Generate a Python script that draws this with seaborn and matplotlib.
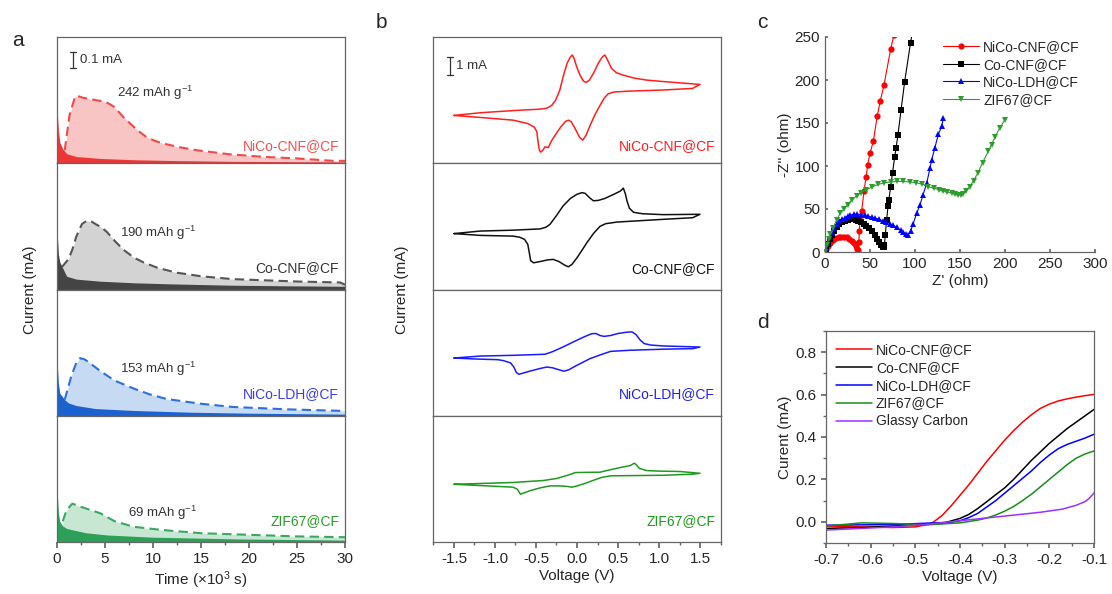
import numpy as np
import pandas as pd
import seaborn as sns
import matplotlib.pyplot as plt
from matplotlib.ticker import MultipleLocator

# ---- panel a: discharge current vs time (x1e3 s, mA) ----
GCD_NAMES = ["NiCo-CNF@CF", "Co-CNF@CF", "NiCo-LDH@CF", "ZIF67@CF"]
GCD_CAPS = ["242", "190", "153", "69"]

red_solid_t = [0, 0.05, 0.15, 0.3, 0.6, 1.0, 2, 4.5, 8, 12, 18, 24, 30]
red_solid_i = [0.38, 0.30, 0.20, 0.13, 0.09, 0.06, 0.042, 0.03, 0.022, 0.017, 0.012, 0.01, 0.008]
red_dash_t = [0.8, 1.3, 1.9, 2.3, 2.7, 3.6, 4.5, 5.0, 5.4, 5.9, 6.3, 6.9, 7.6, 8.4, 9.3, 10.2, 11.1,
              12.8, 14.6, 18, 21.5, 25, 28.8, 30]
red_dash_i = [0.08, 0.30, 0.42, 0.418, 0.41, 0.40, 0.39, 0.385, 0.373, 0.355, 0.33, 0.29, 0.25, 0.205,
              0.165, 0.14, 0.123, 0.10, 0.081, 0.056, 0.04, 0.03, 0.015, 0.015]

grey_solid_t = [0, 0.05, 0.15, 0.3, 0.5, 1.0, 2, 4.5, 8, 12, 18, 24, 30]
grey_solid_i = [0.39, 0.32, 0.22, 0.17, 0.146, 0.083, 0.065, 0.052, 0.042, 0.035, 0.027, 0.023, 0.02]
grey_dash_t = [0.5, 1.2, 1.6, 2.0, 2.6, 3.1, 3.6, 4.0, 4.6, 5.2, 6.0, 6.9, 8.0, 9.0, 10.5, 12.5, 15,
               18.3, 25, 29.5, 30]
grey_dash_i = [0.14, 0.19, 0.25, 0.33, 0.41, 0.43, 0.425, 0.41, 0.39, 0.36, 0.305, 0.25, 0.20, 0.17,
               0.135, 0.105, 0.083, 0.065, 0.05, 0.044, 0.03]

blue_solid_t = [0, 0.05, 0.15, 0.3, 0.5, 0.8, 1.2, 2, 4, 8, 14, 20, 30]
blue_solid_i = [0.39, 0.30, 0.20, 0.14, 0.125, 0.10, 0.08, 0.064, 0.045, 0.033, 0.022, 0.016, 0.01]
blue_dash_t = [0.8, 1.5, 2.0, 2.4, 2.8, 3.2, 4.5, 6.0, 8.0, 9.6, 11.4, 15, 18.3, 24, 30]
blue_dash_i = [0.10, 0.25, 0.33, 0.36, 0.355, 0.34, 0.28, 0.22, 0.17, 0.135, 0.105, 0.075, 0.055, 0.04, 0.03]

green_solid_t = [0, 0.05, 0.15, 0.3, 0.6, 1.0, 1.7, 3, 5.2, 10, 19, 25, 30]
green_solid_i = [0.38, 0.29, 0.18, 0.127, 0.10, 0.085, 0.075, 0.058, 0.044, 0.03, 0.019, 0.015, 0.012]
green_dash_t = [0.6, 1.0, 1.6, 2.5, 4.5, 6.0, 8.0, 11, 15, 20, 25, 30]
green_dash_i = [0.13, 0.20, 0.24, 0.22, 0.18, 0.13, 0.095, 0.075, 0.055, 0.045, 0.035, 0.03]

# ---- panel b: CV loops (V, mA, offset per panel) ----
cv_red_v = [-1.5, -1.18, -0.78, -0.45, -0.37, -0.31, -0.26, -0.21, -0.16, -0.12, -0.08, -0.057, -0.035,
            -0.004, 0.04, 0.08, 0.11, 0.15, 0.2, 0.26, 0.31, 0.34, 0.37, 0.42, 0.48, 0.56, 0.7, 0.85,
            1.05, 1.25, 1.5,
            1.41, 1.05, 0.64, 0.45, 0.38, 0.33, 0.28, 0.22, 0.16, 0.11, 0.07, 0.03, -0.02, -0.07, -0.105,
            -0.14, -0.2, -0.26, -0.31, -0.35, -0.39, -0.42, -0.445, -0.46, -0.475, -0.49, -0.52, -0.6,
            -0.78, -1.18, -1.5]
cv_red_i = [2.65, 2.80, 2.92, 3.0, 3.05, 3.2, 3.5, 4.05, 4.95, 5.55, 5.9, 6.0, 5.8,
            5.35, 4.85, 4.55, 4.48, 4.6, 4.98, 5.55, 5.9, 6.0, 5.75, 5.26, 5.02, 4.89, 4.72, 4.61,
            4.53, 4.46, 4.37,
            4.15, 4.06, 4.0, 3.95, 3.85, 3.6, 3.2, 2.7, 2.1, 1.55, 1.28, 1.45, 1.9, 2.3, 2.39,
            2.32, 2.0, 1.6, 1.25, 0.87, 0.91, 0.70, 0.62, 0.74, 1.2, 1.75, 2.0, 2.2,
            2.39, 2.54, 2.65]

cv_black_v = [-1.5, -1.18, -0.78, -0.45, -0.38, -0.33, -0.25, -0.17, -0.08, 0.0, 0.06, 0.1, 0.15, 0.2,
              0.26, 0.34, 0.45, 0.53, 0.565, 0.59, 0.61, 0.64, 0.69, 0.8, 1.05, 1.5,
              1.41, 1.05, 0.49, 0.35, 0.28, 0.2, 0.12, 0.05, 0.0, -0.06, -0.105, -0.15, -0.22, -0.29,
              -0.36, -0.45, -0.53, -0.565, -0.58, -0.6, -0.64, -0.7, -0.78, -1.18, -1.5]
cv_black_i = [3.1, 3.24, 3.29, 3.36, 3.45, 3.61, 4.1, 4.63, 5.05, 5.28, 5.37, 5.33, 5.1, 4.92,
              4.94, 5.05, 5.28, 5.46, 5.62, 5.3, 4.9, 4.5, 4.28, 4.2, 4.15, 4.17,
              3.98, 3.89, 3.74, 3.65, 3.5, 3.1, 2.59, 2.1, 1.76, 1.4, 1.26, 1.35, 1.55, 1.67,
              1.64, 1.55, 1.48, 1.6, 2.0, 2.5, 2.78, 2.9, 2.96, 3.0, 3.1]

cv_blue_v = [-1.5, -1.18, -0.78, -0.39, -0.3, -0.2, -0.1, 0.0, 0.1, 0.18, 0.23, 0.28, 0.33, 0.41, 0.5,
             0.6, 0.67, 0.72, 0.77, 0.82, 0.9, 1.05, 1.5,
             1.41, 1.05, 0.64, 0.41, 0.3, 0.16, 0.0, -0.1, -0.16, -0.22, -0.3, -0.37, -0.45, -0.57,
             -0.66, -0.71, -0.74, -0.77, -0.81, -0.9, -0.97, -1.2, -1.5]
cv_blue_i = [3.2, 3.31, 3.35, 3.41, 3.55, 3.75, 3.97, 4.19, 4.4, 4.55, 4.56, 4.45, 4.4, 4.45, 4.56,
             4.63, 4.65, 4.5, 4.2, 4.0, 3.92, 3.87, 3.81,
             3.72, 3.69, 3.63, 3.57, 3.4, 3.17, 2.80, 2.55, 2.47, 2.55, 2.66, 2.70, 2.62, 2.48,
             2.36, 2.30, 2.4, 2.7, 2.93, 3.06, 3.11, 3.14, 3.2]

cv_green_v = [-1.5, -0.78, -0.41, -0.25, -0.1, -0.02, 0.1, 0.28, 0.4, 0.55, 0.65, 0.7, 0.73, 0.76,
              0.85, 1.0, 1.25, 1.5,
              1.41, 1.05, 0.41, 0.3, 0.2, 0.1, 0.0, -0.06, -0.12, -0.2, -0.33, -0.45, -0.57, -0.66,
              -0.69, -0.71, -0.73, -0.78, -1.18, -1.5]
cv_green_i = [3.2, 3.30, 3.41, 3.52, 3.72, 3.85, 3.86, 3.87, 4.0, 4.15, 4.24, 4.37, 4.25, 4.08,
              3.96, 3.93, 3.91, 3.81,
              3.76, 3.70, 3.67, 3.58, 3.42, 3.25, 3.11, 3.04, 3.08, 3.11, 3.11, 3.0, 2.85, 2.7,
              2.65, 2.8, 2.93, 3.04, 3.13, 3.2]

# ---- panel c: Nyquist (ohm) ----
eis_red_re = [0.5, 1.5, 3, 5, 7, 9, 12, 15, 18, 21, 24, 27, 30, 32.5, 34.5, 36, 37, 37.6, 38.2, 38.9,
              40.7, 43.3, 45.6, 47.4, 50, 53.7, 58, 61.5, 65.6, 73, 76.5]
eis_red_im = [0, 3, 7, 10, 12.5, 14.5, 16, 17, 17.5, 17.5, 17, 15.5, 13, 10, 6.5, 3.5, 2, 12, 25, 37.6,
              47.3, 70.5, 86.8, 101.6, 115, 128.7, 158, 176, 194.6, 236, 252]
eis_black_re = [0.5, 1.5, 3, 5, 7.5, 10, 13, 16, 19, 22, 25, 28, 31, 34, 37, 40, 43, 46, 49, 52, 55, 58,
                60.5, 62.5, 64, 65, 66, 67, 68.5, 70, 71, 73, 75, 77.5, 79, 81, 84.5, 88.5, 95, 97]
eis_black_im = [0, 4, 9, 15, 20, 25, 29, 32.5, 35, 36.5, 37.5, 38, 38, 37.5, 36.5, 35, 33, 30.5, 27.5, 24,
                20, 15.5, 11.5, 8, 6, 5.5, 8, 20, 37.6, 53, 61, 76, 92, 111, 121, 136, 165, 198, 243, 255]
eis_blue_re = [0.5, 1.5, 3, 5, 7.5, 10, 13, 16, 19, 22, 25, 28, 32, 36, 40, 44, 48, 52, 56, 60, 64, 68,
               72, 76, 80, 84, 87, 90, 92.6, 95, 98, 101.9, 105.6, 109, 113, 116.7, 118.5, 122, 126,
               129.6, 131.5]
eis_blue_im = [0, 5, 11, 17, 23, 28, 32, 35.5, 38, 40, 42, 43, 44, 44, 43.5, 42.5, 41.5, 40.5, 39.5, 38,
               36.5, 35, 33, 31, 28.5, 25.5, 23, 21, 20, 24, 33, 45.3, 55, 66.7, 80, 97.7, 107, 121, 137,
               146, 155.8]
eis_green_re = [0.5, 2, 4, 6, 9, 13, 17, 21, 25, 30, 35, 40, 46, 52, 59, 66, 73, 80, 87, 94, 101, 108,
                114.8, 121, 127, 131.5, 136, 140.7, 144, 148, 151, 153.7, 157, 161, 165, 170, 175,
                181.5, 185, 189, 194, 200]
eis_green_im = [0, 8, 15, 21, 28, 37.6, 45, 50, 55, 61, 65, 69, 72.5, 75.5, 78.5, 80.5, 81.5, 82, 82,
                81.5, 80.5, 79, 76, 74, 72.5, 70.5, 69.5, 68.6, 67, 66, 66.5, 68, 71, 76, 83, 92, 104,
                117, 125, 134, 144, 154]

# ---- panel d: LSV (V, mA) ----
lsv_red_v = [-0.70, -0.62, -0.55, -0.50, -0.474, -0.46, -0.44, -0.42, -0.40, -0.38, -0.36, -0.34, -0.32,
             -0.30, -0.28, -0.26, -0.24, -0.22, -0.20, -0.18, -0.16, -0.14, -0.12, -0.10]
lsv_red_i = [-0.02, -0.024, -0.027, -0.024, -0.013, -0.002, 0.03, 0.075, 0.125, 0.175, 0.23, 0.285, 0.335,
             0.385, 0.43, 0.47, 0.505, 0.535, 0.555, 0.57, 0.58, 0.588, 0.595, 0.601]
lsv_black_v = [-0.70, -0.62, -0.51, -0.44, -0.40, -0.38, -0.36, -0.34, -0.32, -0.30, -0.28, -0.26, -0.24,
               -0.22, -0.20, -0.18, -0.16, -0.14, -0.12, -0.10]
lsv_black_i = [-0.031, -0.027, -0.016, -0.008, 0.016, 0.035, 0.063, 0.095, 0.128, 0.16, 0.20, 0.245, 0.29,
               0.33, 0.37, 0.405, 0.44, 0.47, 0.50, 0.53]
lsv_blue_v = [-0.70, -0.55, -0.42, -0.40, -0.38, -0.36, -0.34, -0.32, -0.30, -0.28, -0.26, -0.24, -0.22,
              -0.20, -0.18, -0.16, -0.14, -0.12, -0.10]
lsv_blue_i = [-0.016, -0.013, -0.002, 0.005, 0.02, 0.04, 0.07, 0.10, 0.135, 0.17, 0.205, 0.24, 0.28,
              0.315, 0.345, 0.365, 0.38, 0.395, 0.413]
lsv_green_v = [-0.70, -0.62, -0.55, -0.47, -0.40, -0.36, -0.34, -0.32, -0.30, -0.28, -0.26, -0.24, -0.22,
               -0.20, -0.18, -0.16, -0.14, -0.12, -0.10]
lsv_green_i = [-0.020, -0.005, -0.008, -0.014, -0.005, 0.008, 0.018, 0.032, 0.05, 0.072, 0.10, 0.13, 0.165,
               0.20, 0.235, 0.27, 0.30, 0.32, 0.334]
lsv_gc_v = [-0.70, -0.55, -0.47, -0.40, -0.30, -0.22, -0.17, -0.14, -0.12, -0.11, -0.10]
lsv_gc_i = [-0.039, -0.024, -0.011, 0.005, 0.027, 0.045, 0.06, 0.078, 0.095, 0.112, 0.136]

sns.set_theme(style="ticks")
plt.rcParams['font.family'] = ['Liberation Sans', 'DejaVu Sans']
plt.rcParams['mathtext.fontset'] = 'custom'
plt.rcParams['mathtext.rm'] = 'Liberation Sans'
plt.rcParams['mathtext.it'] = 'Liberation Sans'
plt.rcParams['axes.linewidth'] = 0.9

W, H = 1112, 594
fig = plt.figure(figsize=(W / 100, H / 100), dpi=100)


def px_axes(left, right, top, bottom):
    return fig.add_axes([left / W, (H - bottom) / H, (right - left) / W, (bottom - top) / H])


SPINE = "#666666"
bounds = [37, 163.25, 289.5, 415.75, 542]

# ------------------ panel a ------------------
gcd = [
    (red_solid_t, red_solid_i, red_dash_t, red_dash_i, "#ee3535", "#f9c4c4", "#f04a4a", "#f05050"),
    (grey_solid_t, grey_solid_i, grey_dash_t, grey_dash_i, "#444444", "#d3d3d3", "#555555", "#333333"),
    (blue_solid_t, blue_solid_i, blue_dash_t, blue_dash_i, "#1b62d0", "#c6daf3", "#2b6fe0", "#3b3bf0"),
    (green_solid_t, green_solid_i, green_dash_t, green_dash_i, "#2e9f58", "#c8e7d2", "#3aa864", "#2a9a2a"),
]
axes_a = []
for k, (st, si, dt, di, dark, light, dash, lab) in enumerate(gcd):
    ax = px_axes(57, 345, bounds[k], bounds[k + 1])
    ax.fill_between(dt, di, 0, color=light, lw=0)
    ax.fill_between(st, si, 0, color=dark, lw=0)
    sns.lineplot(x=dt, y=di, ax=ax, color=dash, lw=1.5, linestyle=(0, (4.5, 2.5)),
                 sort=False, estimator=None)
    ax.set_xlim(0, 30)
    ax.set_ylim(0, 0.79)
    ax.set_yticks([])
    for s in ax.spines.values():
        s.set_color(SPINE)
    ax.text(0.98, 0.14 if k == 0 else 0.17, GCD_NAMES[k], transform=ax.transAxes, ha="right",
            va="center", color=lab, fontsize=10)
    cap_pos = [(0.21, 0.56), (0.22, 0.45), (0.22, 0.37), (0.245, 0.23)][k]
    ax.text(cap_pos[0], cap_pos[1], GCD_CAPS[k] + r" mAh g$^{-1}$", transform=ax.transAxes,
            ha="left", va="center", color="#333333", fontsize=9.5)
    if k < 3:
        ax.set_xticks([])
    axes_a.append(ax)

ax = axes_a[0]
ax.plot([1.67, 1.67], [0.594, 0.694], color="#333333", lw=0.9)
for yy in (0.594, 0.694):
    ax.plot([1.35, 1.99], [yy, yy], color="#333333", lw=0.9)
ax.text(2.4, 0.644, "0.1 mA", ha="left", va="center", fontsize=9.5, color="#333333")

axb = axes_a[3]
axb.xaxis.set_major_locator(MultipleLocator(5))
axb.xaxis.set_minor_locator(MultipleLocator(2.5))
axb.tick_params(axis="x", which="major", direction="out", length=4, labelsize=11, color=SPINE)
axb.tick_params(axis="x", which="minor", direction="out", length=2.5, color=SPINE)
axb.set_xlabel("Time (×10$^3$ s)", fontsize=11, labelpad=2)
fig.text(30 / W, 1 - 290 / H, "Current (mA)", rotation=90, ha="center", va="center", fontsize=11)

# ------------------ panel b ------------------
cv = [
    (cv_red_v, cv_red_i, "#ff1f1f", "#ff1f1f", 0.14),
    (cv_black_v, cv_black_i, "#111111", "#111111", 0.16),
    (cv_blue_v, cv_blue_i, "#1a1aff", "#2020ee", 0.17),
    (cv_green_v, cv_green_i, "#1f991f", "#1f991f", 0.17),
]
axes_b = []
for k, (vv, ii, col, lab, ly) in enumerate(cv):
    ax = px_axes(433, 721, bounds[k], bounds[k + 1])
    sns.lineplot(x=vv, y=ii, ax=ax, color=col, lw=1.1, sort=False, estimator=None)
    ax.set_xlim(-1.756, 1.756)
    ax.set_ylim(0, 7.0)
    ax.set_yticks([])
    for s in ax.spines.values():
        s.set_color(SPINE)
    ax.text(0.98, ly, GCD_NAMES[k], transform=ax.transAxes, ha="right", va="center",
            color=lab, fontsize=10)
    if k < 3:
        ax.set_xticks([])
    axes_b.append(ax)

ax = axes_b[0]
ax.plot([-1.55, -1.55], [4.89, 5.89], color="#333333", lw=0.9)
for yy in (4.89, 5.89):
    ax.plot([-1.585, -1.515], [yy, yy], color="#333333", lw=0.9)
ax.text(-1.47, 5.39, "1 mA", ha="left", va="center", fontsize=9.5, color="#333333")

axb = axes_b[3]
axb.xaxis.set_major_locator(MultipleLocator(0.5))
axb.xaxis.set_minor_locator(MultipleLocator(0.25))
axb.xaxis.set_major_formatter(plt.FuncFormatter(lambda v, p: f"{v:.1f}"))
axb.tick_params(axis="x", which="major", direction="out", length=4, labelsize=11, color=SPINE)
axb.tick_params(axis="x", which="minor", direction="out", length=2.5, color=SPINE)
axb.set_xlabel("Voltage (V)", fontsize=11, labelpad=2)
fig.text(402 / W, 1 - 290 / H, "Current (mA)", rotation=90, ha="center", va="center", fontsize=11)

# ------------------ panel c ------------------
axc = px_axes(825, 1095, 37, 252)
eis = [
    (eis_red_re, eis_red_im, "#ff0000", "o"),
    (eis_black_re, eis_black_im, "#000000", "s"),
    (eis_blue_re, eis_blue_im, "#0000ff", "^"),
    (eis_green_re, eis_green_im, "#2e9b2e", "v"),
]
for k, (re_, im_, col, mk) in enumerate(eis):
    sns.lineplot(x=re_, y=im_, ax=axc, color=col, lw=0.8, marker=mk, markersize=4.5,
                 markeredgewidth=0, sort=False, estimator=None, label=GCD_NAMES[k])
axc.set_xlim(0, 300)
axc.set_ylim(0, 250)
axc.xaxis.set_major_locator(MultipleLocator(50))
axc.yaxis.set_major_locator(MultipleLocator(50))
axc.tick_params(direction="in", length=2, labelsize=11, color=SPINE)
for s in ["top", "right"]:
    axc.spines[s].set_visible(False)
for s in ["left", "bottom"]:
    axc.spines[s].set_color(SPINE)
axc.set_xlabel("Z' (ohm)", fontsize=11, labelpad=2)
axc.set_ylabel("-Z'' (ohm)", fontsize=11, labelpad=2)
axc.legend(loc="upper left", bbox_to_anchor=(0.40, 1.03), frameon=False, fontsize=10,
           handlelength=2.6, labelspacing=0.25, handletextpad=0.3, borderpad=0.2)

# ------------------ panel d ------------------
axd = px_axes(826, 1094, 331, 543)
lsv = [
    (lsv_red_v, lsv_red_i, "#ff0000", "NiCo-CNF@CF"),
    (lsv_black_v, lsv_black_i, "#000000", "Co-CNF@CF"),
    (lsv_blue_v, lsv_blue_i, "#0000ff", "NiCo-LDH@CF"),
    (lsv_green_v, lsv_green_i, "#1a8c1a", "ZIF67@CF"),
    (lsv_gc_v, lsv_gc_i, "#9b30ff", "Glassy Carbon"),
]
for vv, ii, col, name in lsv:
    sns.lineplot(x=vv, y=ii, ax=axd, color=col, lw=1.1, sort=False, estimator=None, label=name)
axd.set_xlim(-0.7, -0.1)
axd.set_ylim(-0.1, 0.9)
axd.xaxis.set_major_locator(MultipleLocator(0.1))
axd.xaxis.set_minor_locator(MultipleLocator(0.05))
axd.yaxis.set_major_locator(MultipleLocator(0.2))
axd.yaxis.set_minor_locator(MultipleLocator(0.1))
axd.xaxis.set_major_formatter(plt.FuncFormatter(lambda v, p: f"{v:.1f}"))
axd.yaxis.set_major_formatter(plt.FuncFormatter(lambda v, p: f"{v:.1f}"))
axd.tick_params(which="major", direction="out", length=3.5, labelsize=11, color=SPINE)
axd.tick_params(which="minor", direction="out", length=2, color=SPINE)
for s in axd.spines.values():
    s.set_color(SPINE)
axd.set_xlabel("Voltage (V)", fontsize=11, labelpad=2)
axd.set_ylabel("Curent (mA)", fontsize=11, labelpad=2)
axd.legend(loc="upper left", bbox_to_anchor=(0.0, 0.99), frameon=False, fontsize=10,
           handlelength=2.6, labelspacing=0.28, handletextpad=0.3, borderpad=0.2)

# panel letters
for letter, x, y in [("a", 12, 40), ("b", 376, 22), ("c", 757, 22), ("d", 757, 322)]:
    fig.text(x / W, 1 - y / H, letter, fontsize=15, ha="left", va="center")

fig.savefig("out.png", dpi=100)
